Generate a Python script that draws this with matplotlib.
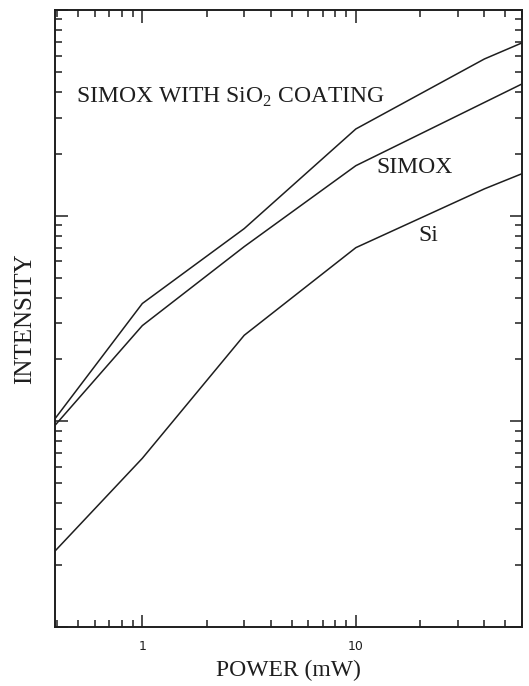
import matplotlib
matplotlib.use("Agg")
import matplotlib.pyplot as plt
from matplotlib.ticker import LogLocator, NullFormatter, FixedLocator, FixedFormatter

# power (mW) and intensity (arb. units, log)
power_coated = [0.39, 1, 3, 10, 40, 60]
int_coated = [10.3, 37.4, 86.5, 264, 578, 692]

power_simox = [0.39, 1, 3, 10, 60]
int_simox = [9.56, 29.2, 70.7, 175, 437]

power_si = [0.39, 1, 3, 10, 40, 60]
int_si = [2.34, 6.61, 26.2, 69.9, 135, 160]

xtick_vals = [1, 10]
xtick_labels = ["1", "10"]

plt.rcParams['mathtext.fontset'] = 'custom'
plt.rcParams['mathtext.rm'] = 'Liberation Serif'
serif = "Liberation Serif"
ink = "#1e1e1e"

fig = plt.figure(figsize=(5.29, 6.86), dpi=100)
ax = fig.add_axes([55/529, 59/686, 467/529, 617/686])

ax.plot(power_coated, int_coated, color=ink, lw=1.1)
ax.plot(power_simox, int_simox, color=ink, lw=1.1)
ax.plot(power_si, int_si, color=ink, lw=1.1)

ax.set_xscale("log")
ax.set_yscale("log")
ax.set_xlim(0.39, 60)
ax.set_ylim(1, 1000)

ax.xaxis.set_major_locator(FixedLocator(xtick_vals))
ax.xaxis.set_major_formatter(FixedFormatter(xtick_labels))
ax.xaxis.set_minor_locator(LogLocator(base=10, subs=range(2, 10)))
ax.xaxis.set_minor_formatter(NullFormatter())
ax.yaxis.set_major_locator(LogLocator(base=10))
ax.yaxis.set_minor_locator(LogLocator(base=10, subs=range(2, 10)))
ax.yaxis.set_major_formatter(NullFormatter())
ax.yaxis.set_minor_formatter(NullFormatter())

ax.tick_params(which="both", direction="in", top=True, right=True, color=ink)
ax.tick_params(which="major", length=9, width=1.1)
ax.tick_params(which="minor", length=5, width=1.1)
ax.tick_params(axis="x", labelsize=9, pad=9, labelcolor=ink)
ax.tick_params(axis="y", left=True, labelleft=False)
for s in ax.spines.values():
    s.set_linewidth(1.4)
    s.set_color(ink)

ax.set_xlabel("POWER (mW)", fontfamily=serif, fontsize=17, color=ink, labelpad=5)
ax.set_ylabel("INTENSITY", fontfamily=serif, fontsize=18, color=ink, labelpad=10)

ax.text(0.375, 0.859, r"SIMOX WITH SiO$_2$ COATING", fontfamily=serif, fontsize=17,
        color=ink, ha="center", va="center", transform=ax.transAxes)
ax.text(0.769, 0.744, "SIMOX", fontfamily=serif, fontsize=17, color=ink,
        ha="center", va="center", transform=ax.transAxes)
ax.text(0.800, 0.634, "Si", fontfamily=serif, fontsize=17, color=ink,
        ha="center", va="center", transform=ax.transAxes)

fig.savefig("out.png", dpi=100)
